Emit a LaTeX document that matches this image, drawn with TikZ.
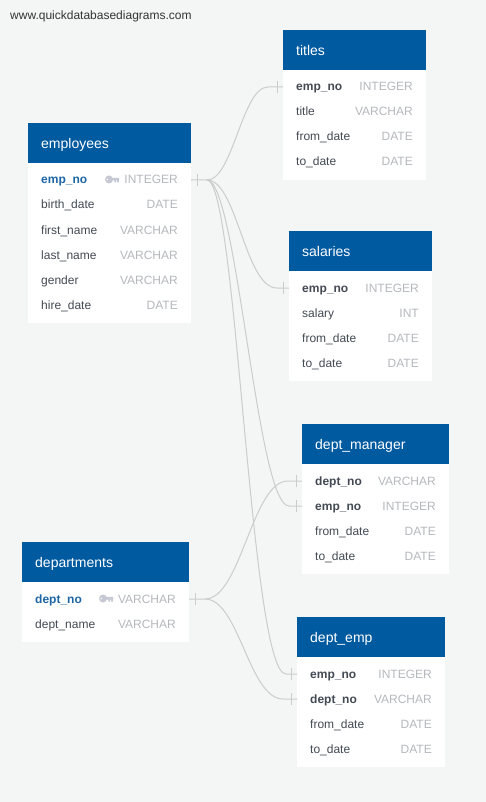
\documentclass[tikz,border=0pt]{standalone}
\usepackage{fontspec}
\setmainfont{Liberation Sans}
\definecolor{pagebg}{HTML}{F4F6F6}
\definecolor{headblue}{HTML}{005AA0}
\definecolor{fieldgrey}{HTML}{434A54}
\definecolor{typegrey}{HTML}{B5B8BD}
\definecolor{pkblue}{HTML}{1C66A6}
\definecolor{linkgrey}{HTML}{CBCDCB}
\definecolor{keygrey}{HTML}{C6C9D3}
\tikzset{
tablehead/.style={anchor=north west,fill=headblue,text=white,font=\fontsize{14}{16}\selectfont,minimum height=40pt,inner sep=0pt,align=left,text height=12pt,text depth=2pt},
tablebody/.style={anchor=north west,fill=white,inner sep=0pt},
fieldname/.style={anchor=base west,inner sep=0pt,text=fieldgrey,font=\fontsize{12}{14}\selectfont},
fkname/.style={fieldname,font=\fontsize{12}{14}\selectfont\bfseries},
pkname/.style={fkname,text=pkblue},
fieldtype/.style={anchor=base east,inner sep=0pt,text=typegrey,font=\fontsize{12}{14}\selectfont},
link/.style={draw=linkgrey,line width=1pt},
keyicon/.pic={\fill[keygrey,even odd rule](-3,0)circle(4)(-4.8,0)circle(1.1);\fill[keygrey](0,-1.6)rectangle(7,1)(2.4,1)rectangle(4,3)(5.2,1)rectangle(6.8,3);}
}
\begin{document}
\begin{tikzpicture}[x=1pt,y=-1pt]
\fill[pagebg](0,0)rectangle(486,802);
\useasboundingbox(0,0)rectangle(486,802);
\node[anchor=base west,inner sep=0pt,text=black!80,font=\fontsize{12}{14}\selectfont](site)at(10,20){www.quickdatabasediagrams.com};
\node[tablebody,minimum width=143pt,minimum height=110pt](titles-body)at(283,70){};\node[tablehead,text width=143pt](titles)at(283,30){\hspace*{13pt}titles};
\node[tablebody,minimum width=163pt,minimum height=160pt](employees-body)at(28,163){};\node[tablehead,text width=163pt](employees)at(28,123){\hspace*{13pt}employees};
\node[tablebody,minimum width=143pt,minimum height=110pt](salaries-body)at(289,271){};\node[tablehead,text width=143pt](salaries)at(289,231){\hspace*{13pt}salaries};
\node[tablebody,minimum width=147pt,minimum height=110pt](manager-body)at(302,464){};\node[tablehead,text width=147pt](manager)at(302,424){\hspace*{13pt}dept\_manager};
\node[tablebody,minimum width=167pt,minimum height=60pt](departments-body)at(22,582){};\node[tablehead,text width=167pt](departments)at(22,542){\hspace*{13pt}departments};
\node[tablebody,minimum width=148pt,minimum height=110pt](deptemp-body)at(297,657){};\node[tablehead,text width=148pt](deptemp)at(297,617){\hspace*{13pt}dept\_emp};
\foreach\i/\s/\f/\t in {1/fkname/emp\_no/INTEGER,2/fieldname/title/VARCHAR,3/fieldname/from\_date/DATE,4/fieldname/to\_date/DATE}{\node[\s](titles-\i)at(296,66+25*\i){\f};\node[fieldtype](titles-t\i)at(413,66+25*\i){\t};}
\foreach\i/\s/\f/\t in {1/pkname/emp\_no/INTEGER,2/fieldname/birth\_date/DATE,3/fieldname/first\_name/VARCHAR,4/fieldname/last\_name/VARCHAR,5/fieldname/gender/VARCHAR,6/fieldname/hire\_date/DATE}{\node[\s](employees-\i)at(41,159+25*\i){\f};\node[fieldtype](employees-t\i)at(178,159+25*\i){\t};}
\foreach\i/\s/\f/\t in {1/fkname/emp\_no/INTEGER,2/fieldname/salary/INT,3/fieldname/from\_date/DATE,4/fieldname/to\_date/DATE}{\node[\s](salaries-\i)at(302,267+25*\i){\f};\node[fieldtype](salaries-t\i)at(419,267+25*\i){\t};}
\foreach\i/\s/\f/\t in {1/fkname/dept\_no/VARCHAR,2/fkname/emp\_no/INTEGER,3/fieldname/from\_date/DATE,4/fieldname/to\_date/DATE}{\node[\s](manager-\i)at(315,460+25*\i){\f};\node[fieldtype](manager-t\i)at(436,460+25*\i){\t};}
\foreach\i/\s/\f/\t in {1/pkname/dept\_no/VARCHAR,2/fieldname/dept\_name/VARCHAR}{\node[\s](departments-\i)at(35,578+25*\i){\f};\node[fieldtype](departments-t\i)at(176,578+25*\i){\t};}
\foreach\i/\s/\f/\t in {1/fkname/emp\_no/INTEGER,2/fkname/dept\_no/VARCHAR,3/fieldname/from\_date/DATE,4/fieldname/to\_date/DATE}{\node[\s](deptemp-\i)at(310,653+25*\i){\f};\node[fieldtype](deptemp-t\i)at(432,653+25*\i){\t};}
\pic at(112,179.5){keyicon};\pic at(106,598.5){keyicon};
\coordinate(emp-pk)at(191,180);\coordinate(emp-tick)at(197,180);\coordinate(emp-hub)at(207,180);
\coordinate(dep-pk)at(189,599);\coordinate(dep-tick)at(195,599);\coordinate(dep-hub)at(205,599);
\coordinate(titles-in)at(283,87);\coordinate(titles-tick)at(277,87);\coordinate(titles-end)at(268,87);
\coordinate(salaries-in)at(289,288);\coordinate(salaries-tick)at(283,288);\coordinate(salaries-end)at(277,288);
\coordinate(manager-d)at(302,481);\coordinate(manager-dt)at(296,481);\coordinate(manager-de)at(288,481);
\coordinate(manager-e)at(302,506);\coordinate(manager-et)at(296,506);\coordinate(manager-ee)at(289,506);
\coordinate(deptemp-e)at(297,674);\coordinate(deptemp-et)at(291,674);\coordinate(deptemp-ee)at(286,674);
\coordinate(deptemp-d)at(297,699);\coordinate(deptemp-dt)at(291,699);\coordinate(deptemp-de)at(283,699);
\draw[link](emp-pk)--(emp-hub)..controls +(26,0) and +(-26,0)..(titles-end)--(titles-in);
\draw[link](emp-hub)..controls +(30,0) and +(-32,0)..(salaries-end)--(salaries-in);
\draw[link](emp-hub)..controls +(30,0) and +(-32,0)..(manager-ee)--(manager-e);
\draw[link](emp-hub)..controls +(30,0) and +(-36,0)..(deptemp-ee)--(deptemp-e);
\draw[link](dep-pk)--(dep-hub)..controls +(36,0) and +(-36,0)..(manager-de)--(manager-d);
\draw[link](dep-hub)..controls +(34,0) and +(-34,0)..(deptemp-de)--(deptemp-d);
\foreach\c in {emp-tick,dep-tick,titles-tick,salaries-tick,manager-dt,manager-et,deptemp-et,deptemp-dt}{\draw[link](\c)+(0,-6)--+(0,6);}
\end{tikzpicture}
\end{document}
